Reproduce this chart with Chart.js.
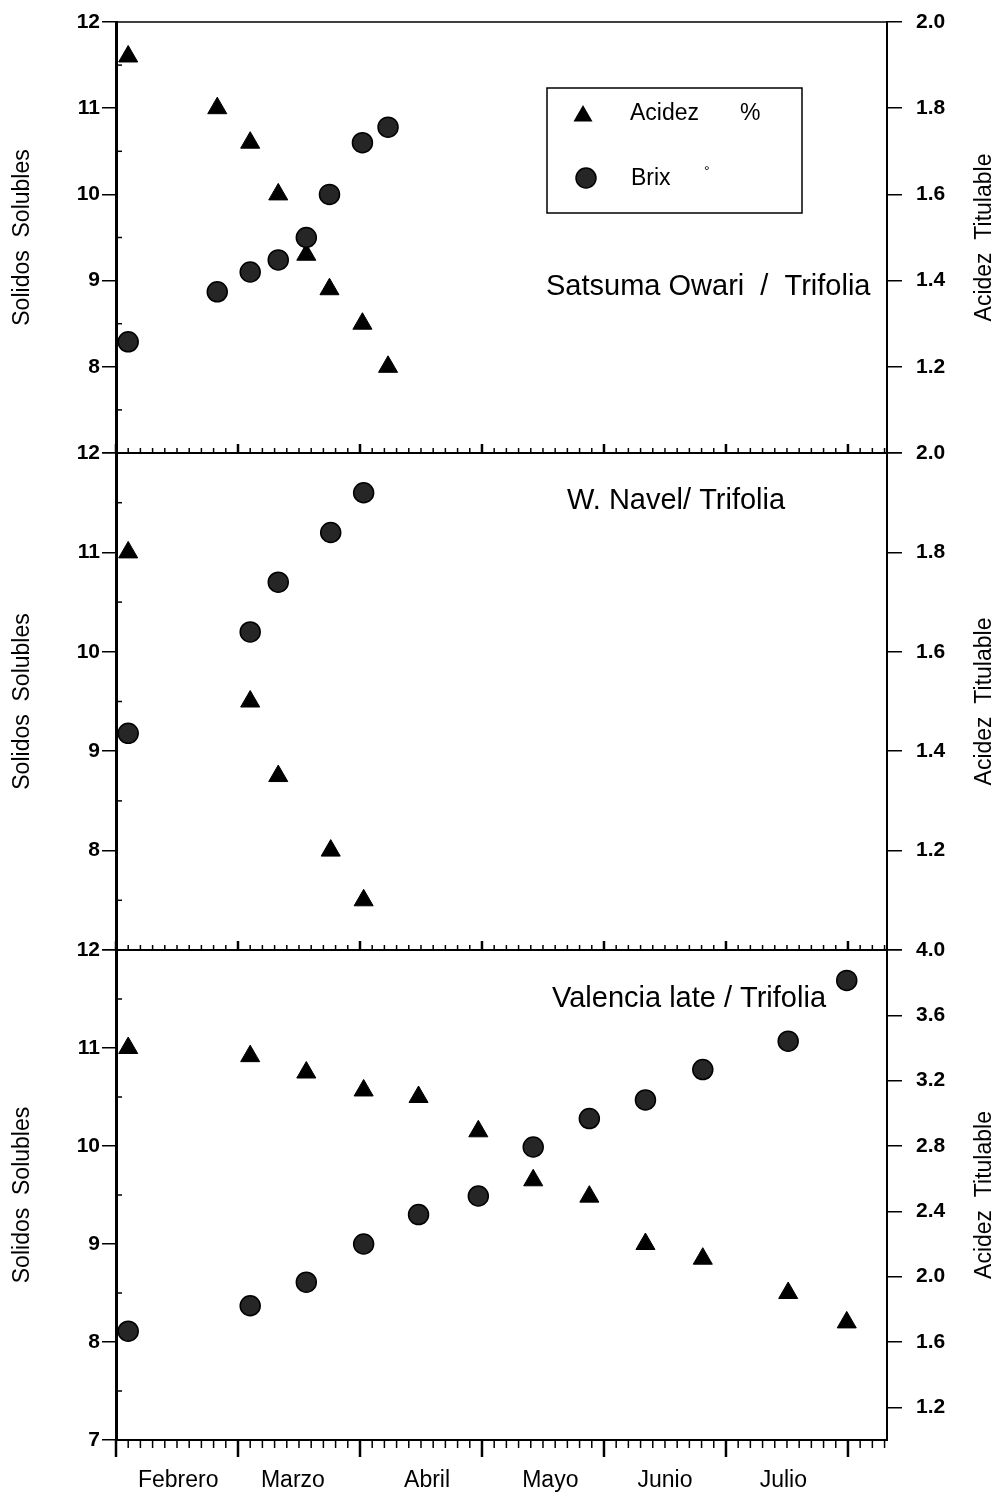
<!DOCTYPE html>
<html>
<head>
<meta charset="utf-8">
<script src="https://cdn.jsdelivr.net/npm/chart.js@4.4.1/dist/chart.umd.min.js"></script>
<style>
  html, body { margin: 0; padding: 0; background: #fff; }
  #hoja { position: relative; width: 1001px; height: 1496px; overflow: hidden; }
  .panel { position: absolute; left: 0; width: 1001px; }
</style>
</head>
<body>
<div id="hoja">
  <div class="panel" style="top:0;height:470px"><canvas id="satsuma"></canvas></div>
  <div class="panel" style="top:433px;height:537px"><canvas id="navel"></canvas></div>
  <div class="panel" style="top:930px;height:566px"><canvas id="valencia"></canvas></div>
</div>
<script>
// eje x: meses transcurridos desde el 1 de febrero
const meses = ['Febrero', 'Marzo', 'Abril', 'Mayo', 'Junio', 'Julio'];
const posMeses = [0.51, 1.45, 2.55, 3.56, 4.5, 5.47];

// Satsuma Owari / Trifolia
const fechasSatsuma = [0.10, 0.83, 1.10, 1.33, 1.56, 1.75, 2.02, 2.23];
const acidezSatsuma = [1.92, 1.80, 1.72, 1.60, 1.46, 1.38, 1.30, 1.20];
const brixSatsuma = [8.29, 8.87, 9.10, 9.24, 9.50, 10.0, 10.6, 10.78];

// W. Navel / Trifolia
const fechasNavel = [0.10, 1.10, 1.33, 1.76, 2.03];
const acidezNavel = [1.80, 1.50, 1.35, 1.20, 1.10];
const brixNavel = [9.18, 10.2, 10.7, 11.2, 11.6];

// Valencia late / Trifolia
const fechasValencia = [0.10, 1.10, 1.56, 2.03, 2.48, 2.97, 3.42, 3.88, 4.34, 4.81, 5.51, 5.99];
const acidezValencia = [3.40, 3.35, 3.25, 3.14, 3.10, 2.89, 2.59, 2.49, 2.20, 2.11, 1.90, 1.72];
const brixValencia = [8.11, 8.37, 8.61, 9.00, 9.30, 9.49, 9.99, 10.28, 10.47, 10.78, 11.07, 11.69];

const ticksAcidezValencia = [1.2, 1.6, 2.0, 2.4, 2.8, 3.2, 3.6, 4.0];

const FUENTE = "'Liberation Sans', Arial, sans-serif";
Chart.defaults.font.family = FUENTE;
Chart.defaults.color = '#000';

function triangulo(ctx, x, y, r) {
  ctx.beginPath();
  ctx.moveTo(x, y - r);
  ctx.lineTo(x + r * Math.sin(Math.PI / 3), y + r / 2);
  ctx.lineTo(x - r * Math.sin(Math.PI / 3), y + r / 2);
  ctx.closePath();
  ctx.fill();
}

// los ejes verticales no deben empujar el área del gráfico
function sinRelleno(s, ancho) {
  s.width = ancho;
  s.paddingTop = 0;
  s.paddingBottom = 0;
}

const extras = {
  id: 'extras',
  afterDraw(chart, args, opts) {
    const {ctx, chartArea: a, scales} = chart;
    const x = scales.x, yIzq = scales.yIzq;
    ctx.save();
    ctx.strokeStyle = '#000';
    ctx.fillStyle = '#000';

    if (opts.bordeSuperior) {
      ctx.lineWidth = 1.5;
      ctx.beginPath();
      ctx.moveTo(a.left, a.top);
      ctx.lineTo(a.right, a.top);
      ctx.stroke();
    }

    // marcas del eje x (hacia dentro en los paneles intermedios)
    const abajo = opts.marcasAbajo;
    if (!abajo) {
      ctx.lineWidth = 2;
      ctx.beginPath();
      ctx.moveTo(a.left, a.bottom);
      ctx.lineTo(a.right, a.bottom);
      ctx.stroke();
    }
    for (let i = 0; i <= 70; i++) {
      const px = x.getPixelForValue(i / 10);
      if (px > a.right + 1) break;
      const mayor = i % 10 === 0;
      const len = abajo ? (mayor ? 17 : 8) : (mayor ? 9 : 5);
      ctx.lineWidth = mayor ? 2.5 : 1.5;
      ctx.beginPath();
      ctx.moveTo(px, a.bottom);
      ctx.lineTo(px, a.bottom + (abajo ? len : -len));
      ctx.stroke();
    }

    // marcas menores del eje izquierdo
    ctx.lineWidth = 1.5;
    for (let v = yIzq.min + 0.5; v < yIzq.max; v += 1) {
      const py = yIzq.getPixelForValue(v);
      ctx.beginPath();
      ctx.moveTo(a.left, py);
      ctx.lineTo(a.left + 6, py);
      ctx.stroke();
    }

    // título del eje derecho
    ctx.font = '23px ' + FUENTE;
    ctx.textAlign = 'center';
    ctx.textBaseline = 'middle';
    ctx.save();
    ctx.translate(985, (a.top + a.bottom) / 2);
    ctx.rotate(-Math.PI / 2);
    ctx.fillText('Acidez  Titulable', 0, 0);
    ctx.restore();

    // nombre del panel
    ctx.font = '29px ' + FUENTE;
    ctx.textAlign = 'left';
    ctx.fillText(opts.titulo, opts.tituloX, a.top + opts.tituloDy);

    if (opts.leyenda) {
      ctx.lineWidth = 1.5;
      ctx.strokeRect(547, 88, 255, 125);
      triangulo(ctx, 583, 116, 11);
      ctx.fillStyle = '#262626';
      ctx.beginPath();
      ctx.arc(586, 178, 10, 0, Math.PI * 2);
      ctx.fill();
      ctx.stroke();
      ctx.fillStyle = '#000';
      ctx.font = '23px ' + FUENTE;
      ctx.fillText('Acidez', 630, 114);
      ctx.fillText('%', 740, 114);
      ctx.fillText('Brix', 631, 179);
      ctx.font = '14px ' + FUENTE;
      ctx.fillText('°', 704, 172);
    }
    ctx.restore();
  }
};

function conjuntos(fechas, acidez, brix) {
  return [
    {
      label: 'Brix',
      data: fechas.map((f, i) => ({x: f, y: brix[i]})),
      yAxisID: 'yIzq',
      pointStyle: 'circle',
      radius: 10,
      backgroundColor: '#262626',
      borderColor: '#000',
      borderWidth: 1.5,
      order: 0,
    },
    {
      label: 'Acidez',
      data: fechas.map((f, i) => ({x: f, y: acidez[i]})),
      yAxisID: 'yDer',
      pointStyle: 'triangle',
      radius: 11,
      backgroundColor: '#000',
      borderColor: '#000',
      borderWidth: 1,
      order: 1,
    },
  ];
}

function escalas(p) {
  const x = p.ultimo
    ? {
        type: 'linear', min: 0, max: 6.32,
        grid: {display: false, drawTicks: false},
        border: {display: true, color: '#000', width: 2},
        afterBuildTicks: (s) => { s.ticks = posMeses.map((v) => ({value: v})); },
        afterFit: (s) => { s.height = 56; },
        ticks: {
          autoSkip: false, maxRotation: 0, padding: 27,
          font: {size: 23},
          callback: (v, i) => meses[i],
        },
      }
    : {type: 'linear', min: 0, max: 6.32, display: false};

  const yDer = {
    position: 'right', min: p.derMin, max: p.derMax,
    grid: {drawOnChartArea: false, tickLength: 15, color: '#000', lineWidth: 1.5},
    border: {color: '#000', width: 2},
    afterFit: (s) => sinRelleno(s, 114),
    ticks: {
      padding: 14, font: {size: 21, weight: 'bold'},
      callback: (v) => (Math.abs(v - p.derMin) < 1e-6 ? '' : Number(v).toFixed(1)),
    },
  };
  if (p.ticksDer) {
    yDer.afterBuildTicks = (s) => { s.ticks = p.ticksDer.map((v) => ({value: v})); };
  } else {
    yDer.ticks.stepSize = 0.2;
  }

  return {
    x,
    yIzq: {
      position: 'left', min: 7, max: 12,
      grid: {drawOnChartArea: false, tickLength: 14, color: '#000', lineWidth: 1.5},
      border: {color: '#000', width: 3},
      afterFit: (s) => sinRelleno(s, 116),
      title: {display: true, text: 'Solidos  Solubles', font: {size: 23}, padding: {top: 9, bottom: 0}},
      ticks: {
        stepSize: 1, padding: 2, font: {size: 21, weight: 'bold'},
        callback: (v) => (v === 7 && !p.ultimo ? '' : String(v)),
      },
    },
    yDer,
  };
}

function panel(id, datos, p, extra) {
  return new Chart(document.getElementById(id), {
    type: 'scatter',
    data: {datasets: datos},
    options: {
      responsive: true,
      maintainAspectRatio: false,
      animation: false,
      events: [],
      clip: false,
      layout: {padding: p.relleno},
      scales: escalas(p),
      plugins: {
        legend: {display: false},
        tooltip: {enabled: false},
        extras: extra,
      },
    },
    plugins: [extras],
  });
}

panel('satsuma', conjuntos(fechasSatsuma, acidezSatsuma, brixSatsuma),
  {derMin: 1, derMax: 2, relleno: {top: 22, bottom: 17, left: 0, right: 0}},
  {bordeSuperior: true, titulo: 'Satsuma Owari  /  Trifolia', tituloX: 546, tituloDy: 265, leyenda: true});

panel('navel', conjuntos(fechasNavel, acidezNavel, brixNavel),
  {derMin: 1, derMax: 2, relleno: {top: 20, bottom: 20, left: 0, right: 0}},
  {titulo: 'W. Navel/ Trifolia', tituloX: 567, tituloDy: 48});

panel('valencia', conjuntos(fechasValencia, acidezValencia, brixValencia),
  {derMin: 1, derMax: 4, ticksDer: ticksAcidezValencia, ultimo: true, relleno: {top: 20, bottom: 0, left: 0, right: 0}},
  {marcasAbajo: true, titulo: 'Valencia late / Trifolia', tituloX: 552, tituloDy: 49});
</script>
</body>
</html>
